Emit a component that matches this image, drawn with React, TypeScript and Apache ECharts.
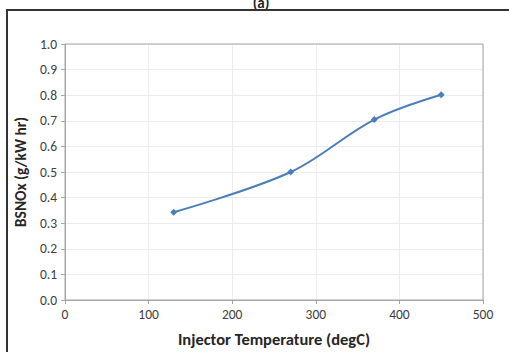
import React, { useEffect, useRef } from "react";
import * as echarts from "echarts";

const temperatures = [130, 270, 370, 450];
const bsnox = [0.343, 0.5, 0.705, 0.802];
const xTicks = [0, 100, 200, 300, 400, 500];
const yTicks = [0, 0.1, 0.2, 0.3, 0.4, 0.5, 0.6, 0.7, 0.8, 0.9, 1.0];

export default function App() {
  const ref = useRef<HTMLDivElement>(null);
  useEffect(() => {
    if (!ref.current) return;
    const chart = echarts.init(ref.current, null, { renderer: "svg" });
    const font = "Carlito, Calibri, 'Open Sans', 'DejaVu Sans', sans-serif";
    chart.setOption({
      animation: false,
      backgroundColor: "#ffffff",
      textStyle: { fontFamily: font },
      graphic: [
        {
          type: "rect",
          shape: { x: 7, y: 10, width: 540, height: 380 },
          style: { fill: "none", stroke: "#333333", lineWidth: 2 },
          z: 10,
        },
        {
          type: "text",
          x: 261,
          y: -5,
          style: { text: "(a)", font: "bold 15px " + font, fill: "#222", textAlign: "center" },
        },
        {
          type: "rect",
          shape: { x: 65, y: 44, width: 418, height: 256 },
          style: { fill: "none", stroke: "#a6a6a6", lineWidth: 1 },
          z: 5,
        },
      ],
      grid: { left: 65, right: 509 - 483, top: 44, bottom: 352 - 300, containLabel: false },
      xAxis: {
        type: "value",
        min: 0,
        max: 500,
        interval: 100,
        name: "Injector Temperature (degC)",
        nameLocation: "middle",
        nameGap: 30,
        nameTextStyle: { fontSize: 16.5, fontWeight: "bold", color: "#262626", fontFamily: font },
        axisLine: { show: true, lineStyle: { color: "#a6a6a6" } },
        axisTick: { show: true, length: 4, lineStyle: { color: "#a6a6a6" } },
        axisLabel: {
          fontSize: 13.5,
          color: "#404040",
          margin: 7,
          formatter: (v: number) => (xTicks.includes(v) ? String(v) : ""),
        },
        splitLine: { show: true, lineStyle: { color: "#ececec" } },
      },
      yAxis: {
        type: "value",
        min: 0,
        max: 1,
        interval: 0.1,
        name: "BSNOx (g/kW hr)",
        nameLocation: "middle",
        nameGap: 37,
        nameTextStyle: { fontSize: 15.5, fontWeight: "bold", color: "#262626", fontFamily: font },
        axisLine: { show: true, lineStyle: { color: "#a6a6a6" } },
        axisTick: { show: true, length: 4, lineStyle: { color: "#a6a6a6" } },
        axisLabel: {
          fontSize: 13.5,
          color: "#404040",
          margin: 8,
          formatter: (v: number) => {
            const t = yTicks.find((y) => Math.abs(y - v) < 1e-6);
            return t === undefined ? "" : t.toFixed(1);
          },
        },
        splitLine: { show: true, lineStyle: { color: "#ececec" } },
      },
      series: [
        {
          type: "line",
          data: temperatures.map((t, i) => [t, bsnox[i]]),
          smooth: 0.35,
          symbol: "diamond",
          symbolSize: 7,
          lineStyle: { color: "#4a7ebb", width: 2 },
          itemStyle: { color: "#4a7ebb" },
        },
      ],
    });
    return () => chart.dispose();
  }, []);
  return (
    <div
      ref={ref}
      style={{ position: "fixed", left: 0, top: 0, width: 509, height: 352 }}
    />
  );
}
